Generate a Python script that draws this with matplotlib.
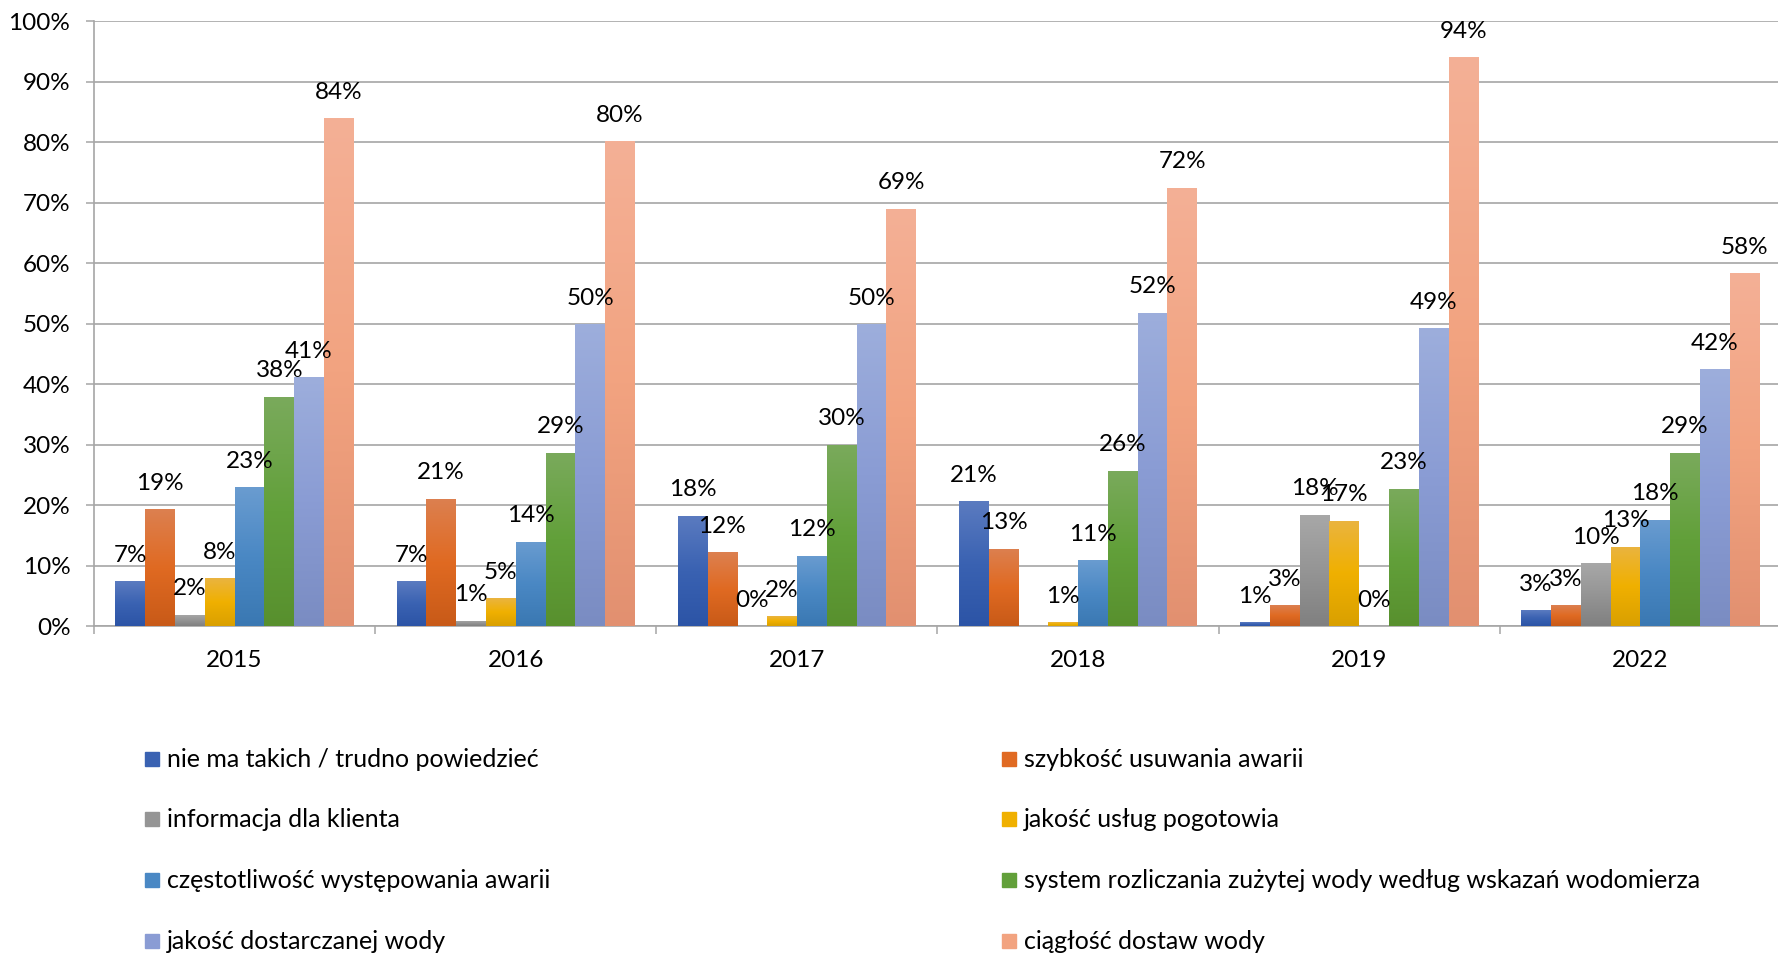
import numpy as np
import matplotlib
matplotlib.use("Agg")
import matplotlib.pyplot as plt
from matplotlib.colors import LinearSegmentedColormap
from matplotlib.patches import Rectangle

plt.rcParams['font.family'] = ['Lato', 'DejaVu Sans']

years = ['2015', '2016', '2017', '2018', '2019', '2022']
series = [
    'nie ma takich / trudno powiedzieć',
    'szybkość usuwania awarii',
    'informacja dla klienta',
    'jakość usług pogotowia',
    'częstotliwość występowania awarii',
    'system rozliczania zużytej wody według wskazań wodomierza',
    'jakość dostarczanej wody',
    'ciągłość dostaw wody',
]
# values in %, one list per series (order of years above); nan = no bar / no label
nie_ma = [7.4, 7.4, 18.2, 20.6, 0.6, 2.6]
szybkosc = [19.3, 21.0, 12.2, 12.8, 3.4, 3.4]
informacja = [1.9, 0.9, 0.0, np.nan, 18.4, 10.4]
pogotowie = [7.9, 4.6, 1.6, 0.6, 17.4, 13.1]
czestotliwosc = [22.9, 13.9, 11.6, 10.9, 0.0, 17.6]
system_rozl = [37.9, 28.6, 30.0, 25.7, 22.7, 28.6]
jakosc_wody = [41.1, 49.9, 49.9, 51.8, 49.2, 42.4]
ciaglosc = [83.9, 80.1, 69.0, 72.4, 94.0, 58.3]
values = [nie_ma, szybkosc, informacja, pogotowie, czestotliwosc,
          system_rozl, jakosc_wody, ciaglosc]

# (top, middle, bottom) gradient colours, Excel-like
grads = [
    ('#5b7bc0', '#3a62b2', '#2c54a6'),
    ('#dc8050', '#e06a22', '#c85a18'),
    ('#a8a8a8', '#959595', '#808080'),
    ('#eab440', '#f0b000', '#d9a000'),
    ('#6a9cd0', '#4a88c4', '#3a78b2'),
    ('#7aaa5c', '#62a03a', '#58902e'),
    ('#9daedc', '#8a9cd4', '#7a8cc2'),
    ('#f4b096', '#f2a380', '#e29070'),
]

W, H = 1778, 955
fig = plt.figure(figsize=(W / 100, H / 100), dpi=100)
ax = fig.add_axes([94 / W, 1 - 626 / H, (1781 - 94) / W, (626 - 21) / H])

x = np.arange(len(years))
bw = 0.106
grid_c = '#a6a6a6'
fs = 17.5

for i, (vals, g) in enumerate(zip(values, grads)):
    cmap = LinearSegmentedColormap.from_list('g%d' % i, [g[2], g[1], g[0]])
    pos = x + (i - 3.5) * bw
    hv = np.nan_to_num(np.array(vals, dtype=float))
    bars = ax.bar(pos, hv, width=bw, color=g[1], linewidth=0, zorder=3)
    for b, v in zip(bars, vals):
        if np.isnan(v):
            continue
        h = b.get_height()
        if h > 0:
            grad = np.linspace(0, 1, 256).reshape(-1, 1)
            im = ax.imshow(grad, cmap=cmap, origin='lower', aspect='auto',
                           extent=[b.get_x(), b.get_x() + b.get_width(), 0, h],
                           zorder=3.5)
            im.set_clip_path(b)
        ax.annotate('%d%%' % round(v), (b.get_x() + b.get_width() / 2, h),
                    xytext=(0, 26), textcoords='offset pixels',
                    ha='center', va='center', fontsize=fs, color='#000000',
                    zorder=5)

ax.set_xlim(-0.5, len(years) - 0.5)
ax.set_ylim(0, 100)
ax.set_yticks(np.arange(0, 101, 10))
ax.set_yticklabels(['%d%%' % t for t in range(0, 101, 10)], fontsize=fs)
ax.set_xticks(x)
ax.set_xticklabels(years, fontsize=fs)
ax.set_xticks(np.arange(-0.5, len(years)), minor=True)
ax.tick_params(axis='x', which='major', length=0, pad=17)
ax.tick_params(axis='x', which='minor', length=6, width=1.1, color=grid_c, direction='out')
ax.tick_params(axis='y', length=6, width=1.1, color=grid_c, pad=11)
ax.yaxis.grid(True, color=grid_c, linewidth=1.2, zorder=0)
ax.set_axisbelow(True)
for s in ['top', 'right']:
    ax.spines[s].set_visible(False)
for s in ['left', 'bottom']:
    ax.spines[s].set_color(grid_c)
    ax.spines[s].set_linewidth(1.2)

# legend: two columns, row-major
col_x = [145, 1002]
row_y = [759, 819, 880, 941]
sq = 14
for i, name in enumerate(series):
    cx = col_x[i % 2]
    cy = row_y[i // 2]
    fig.patches.append(Rectangle((cx / W, 1 - (cy + sq / 2) / H), sq / W, sq / H,
                                 transform=fig.transFigure, color=grads[i][1]))
    fig.text((cx + sq + 8) / W, 1 - cy / H, name, fontsize=fs + 0.5,
             ha='left', va='center', color='#000000')

fig.savefig('out.png', dpi=100)
